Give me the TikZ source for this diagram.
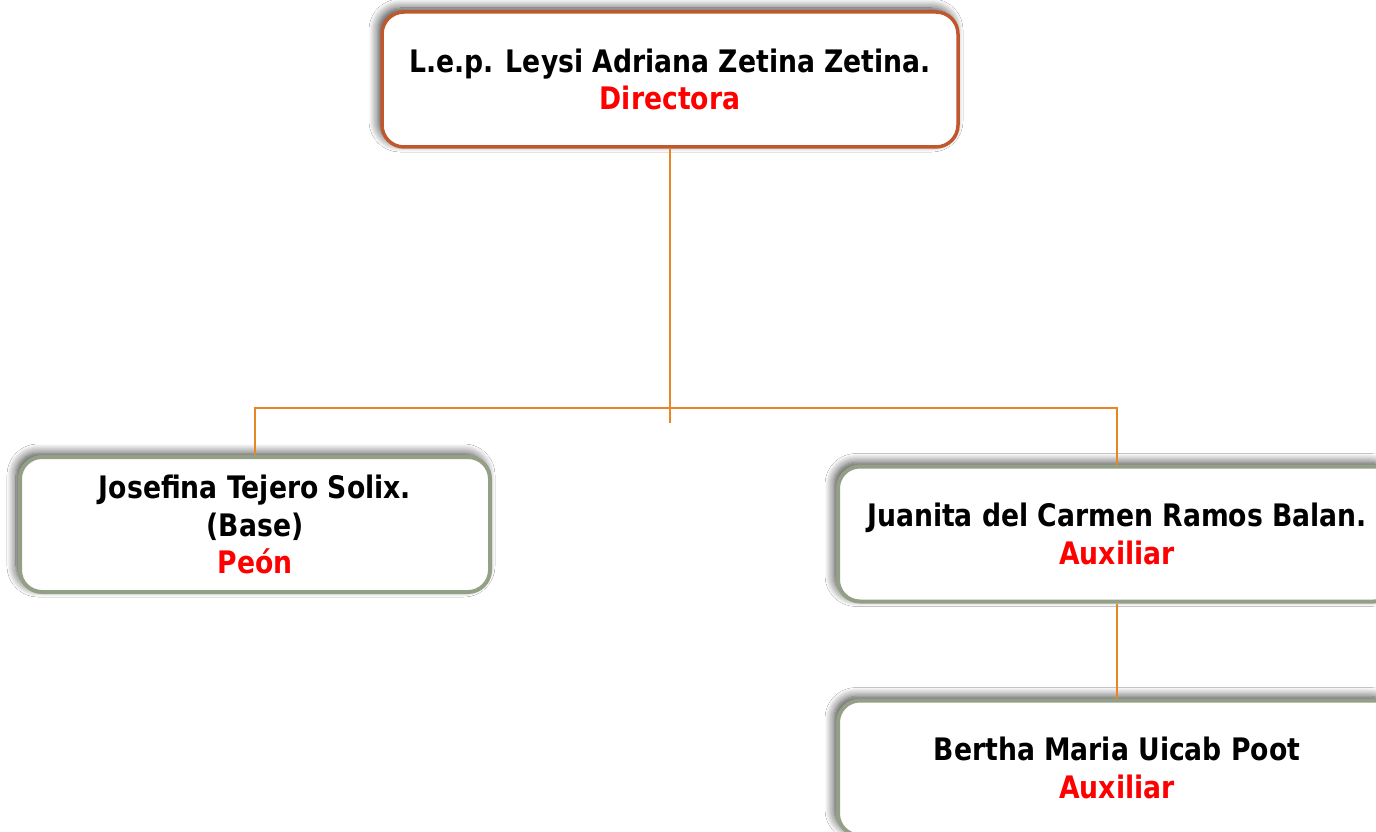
\documentclass[tikz,border=0pt]{standalone}
\usepackage{fontspec}
\setmainfont[FakeStretch=0.86]{DejaVu Sans}
\usetikzlibrary{shadows.blur}
\definecolor{topborder}{RGB}{192,88,45}
\definecolor{subborder}{RGB}{147,160,134}
\definecolor{connorange}{RGB}{232,134,38}
\definecolor{rolered}{RGB}{255,0,0}
\tikzset{
  orgbox/.style={rectangle, rounded corners=22pt, fill=white, line width=4pt,
    align=center, inner sep=0pt,
    font=\bfseries\fontsize{31}{37.5}\selectfont,
    blur shadow={shadow xshift=-4pt, shadow yshift=4pt, shadow blur radius=9pt, shadow blur steps=10, shadow opacity=75}},
  topbox/.style={orgbox, draw=topborder, line width=3.5pt, minimum width=576pt, minimum height=135pt},
  subbox/.style={orgbox, draw=subborder, minimum height=135pt},
  conn/.style={draw=connorange, line width=2.2pt},
  role/.style={text=rolered}
}
\begin{document}
\begin{tikzpicture}[x=1pt,y=-1pt]
\useasboundingbox (0,0) rectangle (1376,832);
\clip (0,0) rectangle (1376,832);
\fill[white] (0,0) rectangle (1376,832);
\coordinate (tail) at (670,423);
\coordinate (junction) at (670,408);
\node[subbox, minimum width=470pt] (left) at (255,524.5) {Josefina Tejero Solix.\\(Base)\\\textcolor{rolered}{Peón}};
\node[subbox, minimum width=558pt] (right1) at (1117,534) {Juanita del Carmen Ramos Balan.\\\textcolor{rolered}{Auxiliar}};
\node[subbox, minimum width=558pt] (right2) at (1117,768) {Bertha Maria Uicab Poot\\\textcolor{rolered}{Auxiliar}};
\node[topbox] (top) at (670,79.5) {L.e.p. Leysi Adriana Zetina Zetina.\\\textcolor{rolered}{Directora}};
\draw[conn] (top.south) -- (tail);
\draw[conn] (left.north) |- (junction) -| (right1.north);
\draw[conn] (right1.south) -- (right2.north);
\end{tikzpicture}
\end{document}
